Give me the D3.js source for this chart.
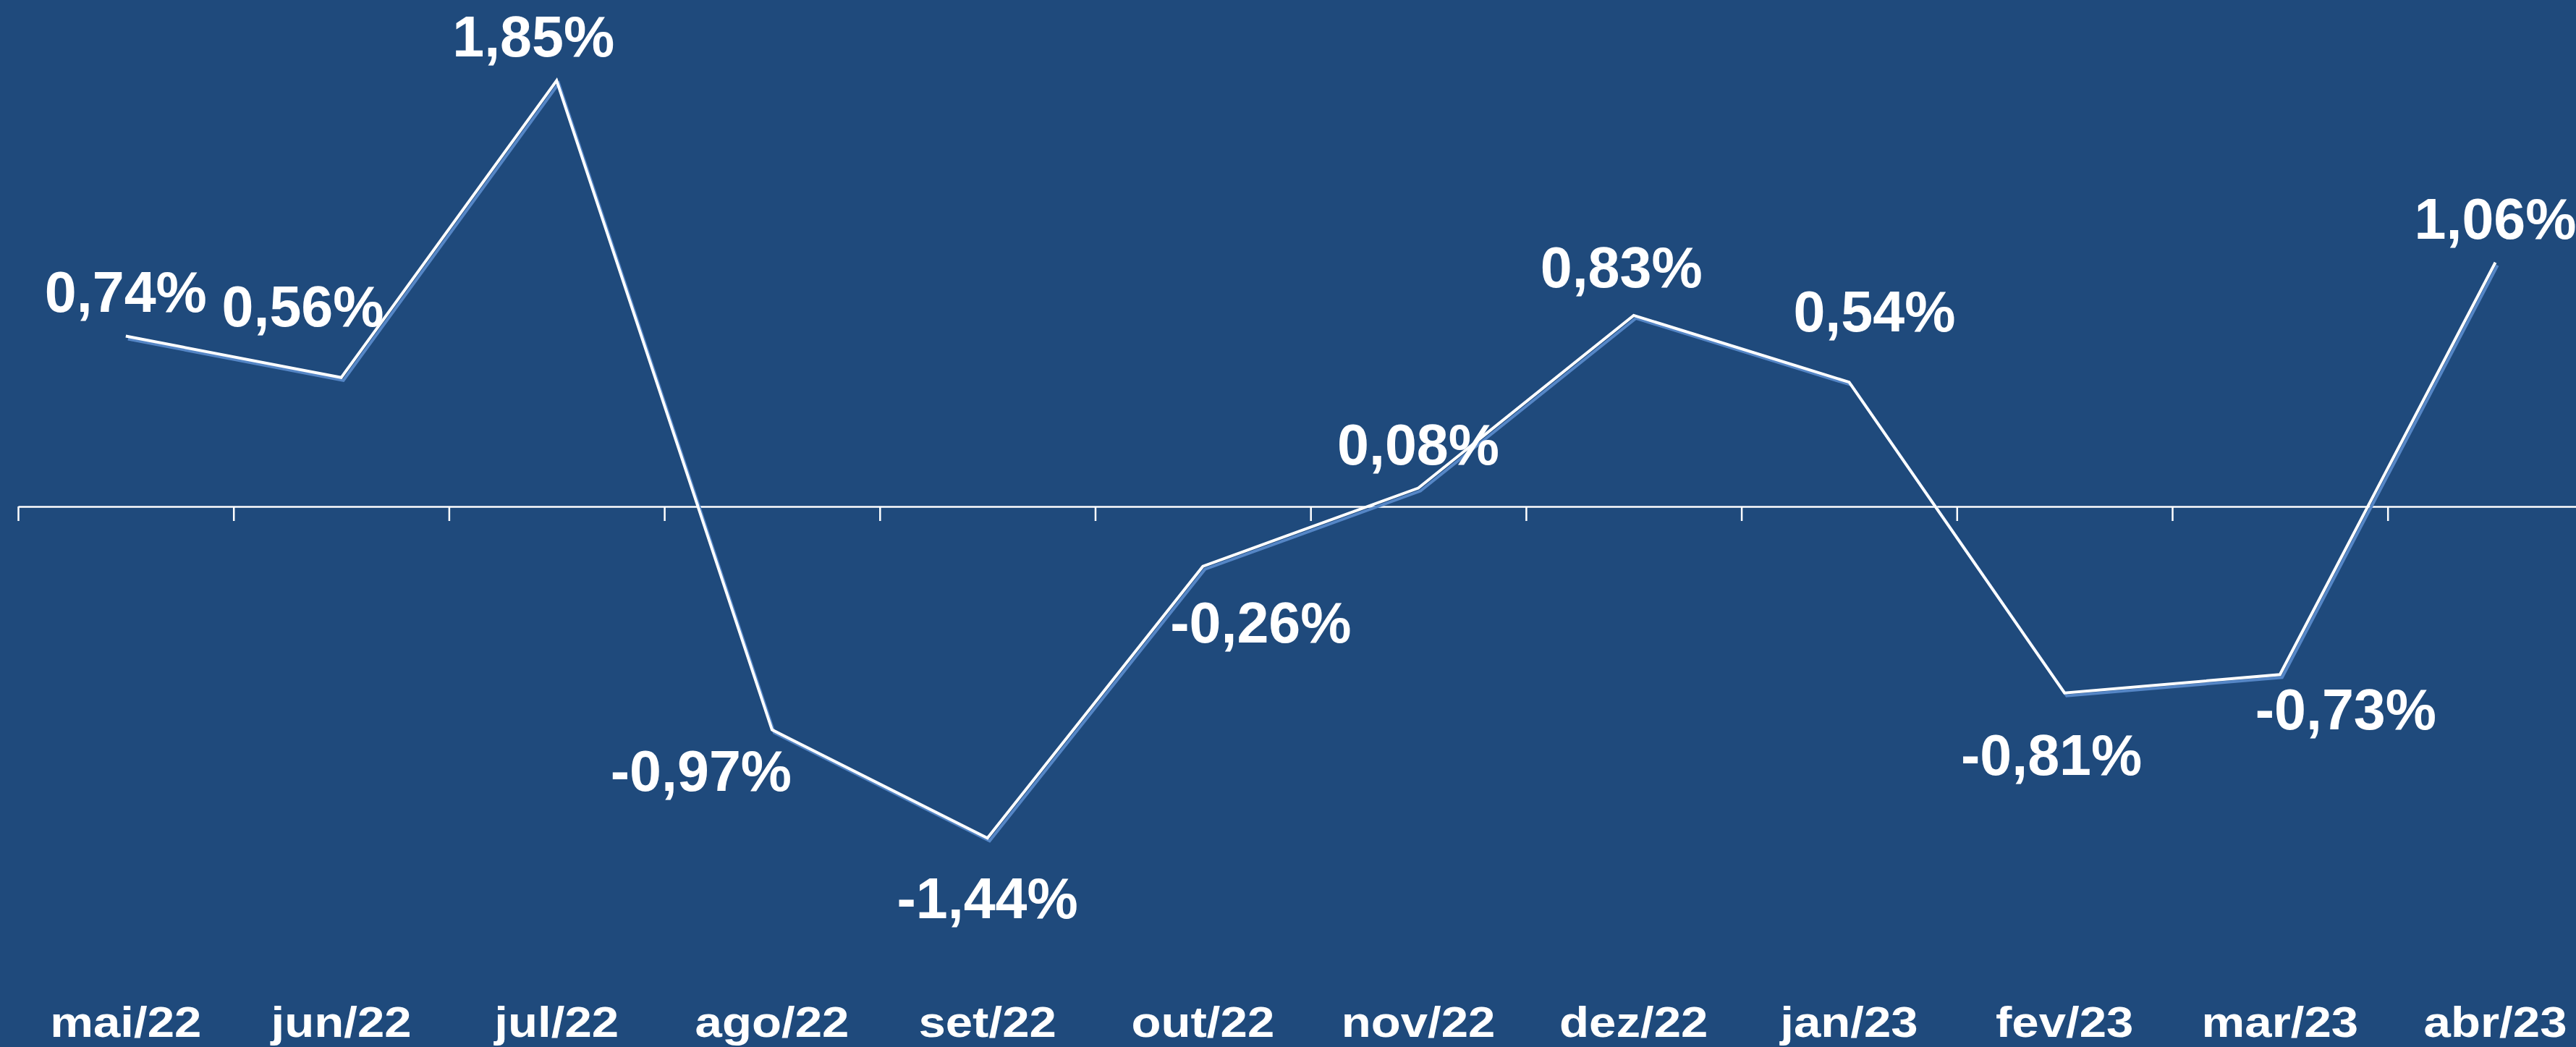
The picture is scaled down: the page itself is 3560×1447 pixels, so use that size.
<!DOCTYPE html>
<html>
<head>
<meta charset="utf-8">
<script src="https://cdn.jsdelivr.net/npm/d3@7"></script>
<style>
  html, body { margin: 0; padding: 0; background: #1f4a7c; overflow: hidden; }
  text { font-family: "Liberation Sans", Arial, sans-serif; font-weight: bold; fill: #fff; }
</style>
</head>
<body>
<div id="chart"></div>
<script>
const months = ["mai/22", "jun/22", "jul/22", "ago/22", "set/22", "out/22",
                "nov/22", "dez/22", "jan/23", "fev/23", "mar/23", "abr/23"];
const change = [0.74, 0.56, 1.85, -0.97, -1.44, -0.26, 0.08, 0.83, 0.54, -0.81, -0.73, 1.06];

const width = 3560, height = 1447;
const step = 297.7, left = 25;

// where each value label sits, relative to its point (baseline)
const labelNudge = [[0, -34], [-53, -71], [-32, -33], [-98, 84], [0, 111], [80, 105],
                    [0, -33], [-17, -39], [35, -70], [-18, 113], [91, 76], [0, -33]];

const ptBR = d3.formatLocale({ decimal: ",", thousands: ".", grouping: [3], currency: ["R$", ""], minus: "-" });
const pct = v => ptBR.format(".2f")(v) + "%";

const svg = d3.select("#chart")
  .append("svg")
    .attr("width", width)
    .attr("height", height);

svg.append("rect")
  .attr("width", width)
  .attr("height", height)
  .attr("fill", "#1f4a7c");

const x = d3.scaleBand()
  .domain(months)
  .range([left, left + step * months.length]);

const y = d3.scaleLinear()
  .domain([-2, 2])
  .range([700 + 2 * 318.2, 700 - 2 * 318.2]);

// axis at zero, ticks between categories
const edges = d3.scaleLinear().domain([0, months.length]).range(x.range());
const axis = svg.append("g")
  .attr("transform", `translate(0,${y(0)})`)
  .call(d3.axisBottom(edges)
    .tickValues(d3.range(months.length + 1))
    .tickSize(20)
    .tickSizeOuter(0)
    .tickFormat(""));
axis.select(".domain").attr("stroke", "#fff").attr("stroke-width", 2.5);
axis.selectAll(".tick line").attr("stroke", "#fff").attr("stroke-width", 2.5);

// month labels along the bottom
svg.append("g")
  .selectAll("text")
  .data(months)
  .join("text")
    .attr("text-anchor", "middle")
    .attr("font-size", 60)
    .attr("transform", d => `translate(${x(d) + x.bandwidth() / 2},1433) scale(1.12,1)`)
    .text(d => d);

const line = d3.line()
  .x((d, i) => x(months[i]) + x.bandwidth() / 2)
  .y(d => y(d));

// soft shadow under the line
svg.append("path")
  .datum(change)
  .attr("d", line)
  .attr("transform", "translate(3,4)")
  .attr("fill", "none")
  .attr("stroke", "#5586c6")
  .attr("stroke-width", 4)
  .attr("stroke-linejoin", "miter");

svg.append("path")
  .datum(change)
  .attr("d", line)
  .attr("fill", "none")
  .attr("stroke", "#fff")
  .attr("stroke-width", 4)
  .attr("stroke-linejoin", "miter");

svg.append("g")
  .selectAll("text")
  .data(change)
  .join("text")
    .attr("text-anchor", "middle")
    .attr("font-size", 79)
    .attr("x", (d, i) => x(months[i]) + x.bandwidth() / 2 + labelNudge[i][0])
    .attr("y", (d, i) => y(d) + labelNudge[i][1])
    .text(d => pct(d));
</script>
</body>
</html>
